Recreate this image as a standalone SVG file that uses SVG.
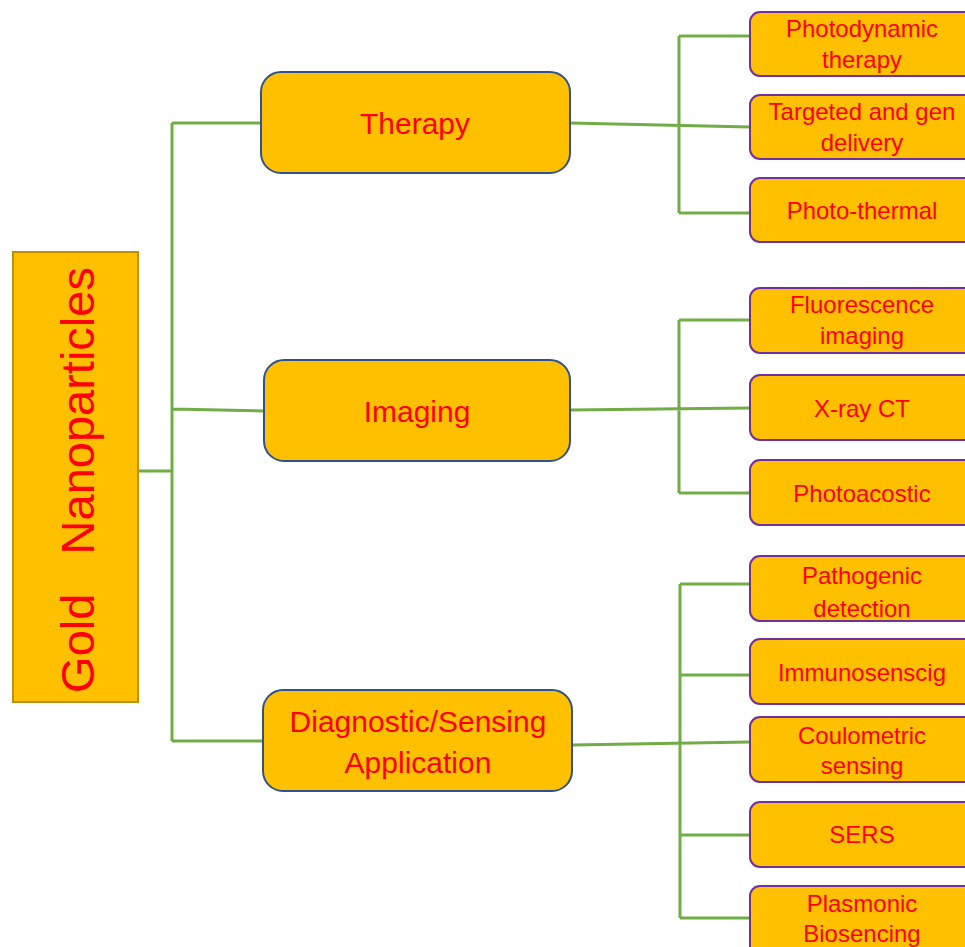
<svg xmlns="http://www.w3.org/2000/svg" width="965" height="947" viewBox="0 0 965 947">
<style>
  .root { fill: #FFC000; stroke: #BF9000; stroke-width: 2; }
  .mid { fill: #FFC000; stroke: #2F528F; stroke-width: 2; }
  .leaf { fill: #FFC000; stroke: #7030A0; stroke-width: 2; }
  .conn { fill: none; stroke: #70AD47; stroke-width: 3; }
  text { font-family: "Liberation Sans", Arial, sans-serif; fill: #FF0000; text-anchor: middle; }
  .t-mid { font-size: 30px; }
  .t-leaf { font-size: 24px; }
  .t-root { font-size: 47px; white-space: pre; }
</style>
<rect width="965" height="947" fill="#FFFFFF"/>
<g id="connectors">
  <path class="conn" d="M138,471 H172 M172,123 V741 M172,123 H261 M172,409 L264,411 M172,741 H263"/>
  <path class="conn" d="M570,123 L750,127 M679,36 V213 M679,36 H750 M679,213 H750"/>
  <path class="conn" d="M570,410 L750,408 M679,320 V493 M679,320 H750 M679,493 H750"/>
  <path class="conn" d="M572,745 L750,742 M680,584 V918 M680,584 H750 M680,675 H750 M680,835 H750 M680,918 H750"/>
</g>
<g id="root">
  <rect class="root" x="13" y="252" width="125" height="450"/>
  <text class="t-root" xml:space="preserve" transform="translate(94,480) rotate(-90)" x="0" y="0">Gold   Nanoparticles</text>
</g>
<g id="therapy">
  <rect class="mid" x="261" y="72" width="309" height="101" rx="20"/>
  <text class="t-mid" x="415" y="134">Therapy</text>
</g>
<g id="imaging">
  <rect class="mid" x="264" y="360" width="306" height="101" rx="20"/>
  <text class="t-mid" x="417" y="422">Imaging</text>
</g>
<g id="diagnostic">
  <rect class="mid" x="263" y="690" width="309" height="101" rx="20"/>
  <text class="t-mid" x="418" y="732">Diagnostic/Sensing</text>
  <text class="t-mid" x="418" y="773">Application</text>
</g>
<g id="leaf-photodynamic">
  <rect class="leaf" x="750" y="12" width="240" height="64" rx="10"/>
  <text class="t-leaf" x="862" y="37">Photodynamic</text>
  <text class="t-leaf" x="862" y="68">therapy</text>
</g>
<g id="leaf-targeted">
  <rect class="leaf" x="750" y="95" width="240" height="64" rx="10"/>
  <text class="t-leaf" x="862" y="120">Targeted and gen</text>
  <text class="t-leaf" x="862" y="151">delivery</text>
</g>
<g id="leaf-photothermal">
  <rect class="leaf" x="750" y="178" width="240" height="64" rx="10"/>
  <text class="t-leaf" x="862" y="219">Photo-thermal</text>
</g>
<g id="leaf-fluorescence">
  <rect class="leaf" x="750" y="288" width="240" height="65" rx="10"/>
  <text class="t-leaf" x="862" y="313">Fluorescence</text>
  <text class="t-leaf" x="862" y="344">imaging</text>
</g>
<g id="leaf-xray">
  <rect class="leaf" x="750" y="375" width="240" height="65" rx="10"/>
  <text class="t-leaf" x="862" y="417">X-ray CT</text>
</g>
<g id="leaf-photoacostic">
  <rect class="leaf" x="750" y="460" width="240" height="65" rx="10"/>
  <text class="t-leaf" x="862" y="502">Photoacostic</text>
</g>
<g id="leaf-pathogenic">
  <rect class="leaf" x="750" y="556" width="240" height="65" rx="10"/>
  <text class="t-leaf" x="862" y="584">Pathogenic</text>
  <text class="t-leaf" x="862" y="617">detection</text>
</g>
<g id="leaf-immuno">
  <rect class="leaf" x="750" y="639" width="240" height="65" rx="10"/>
  <text class="t-leaf" x="862" y="681">Immunosenscig</text>
</g>
<g id="leaf-coulometric">
  <rect class="leaf" x="750" y="717" width="240" height="65" rx="10"/>
  <text class="t-leaf" x="862" y="744">Coulometric</text>
  <text class="t-leaf" x="862" y="774">sensing</text>
</g>
<g id="leaf-sers">
  <rect class="leaf" x="750" y="802" width="240" height="65" rx="10"/>
  <text class="t-leaf" x="862" y="843">SERS</text>
</g>
<g id="leaf-plasmonic">
  <rect class="leaf" x="750" y="886" width="240" height="80" rx="10"/>
  <text class="t-leaf" x="862" y="912">Plasmonic</text>
  <text class="t-leaf" x="862" y="942">Biosencing</text>
</g>
</svg>
